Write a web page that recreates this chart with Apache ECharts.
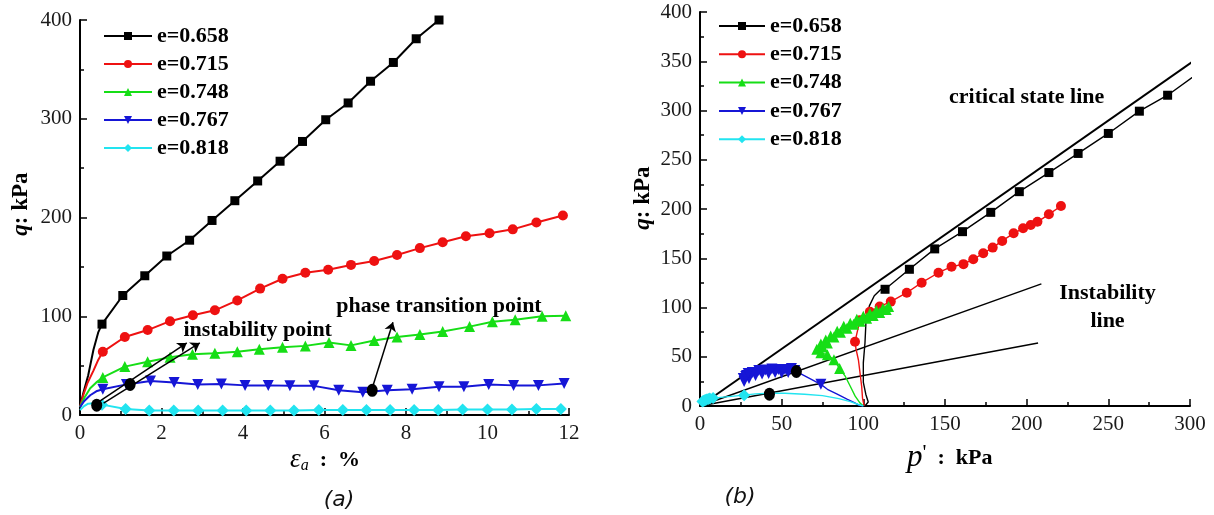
<!DOCTYPE html>
<html>
<head>
<meta charset="utf-8">
<script src="https://cdn.jsdelivr.net/npm/echarts@6/dist/echarts.min.js"></script>
<style>
html, body { margin: 0; padding: 0; background: #fff; }
#c { width: 1214px; height: 515px; }
</style>
</head>
<body>
<div id="c"></div>
<script>
// ---------- (a) deviator stress q vs axial strain εa ----------
// lead = unmarked start of each curve, mark = points carrying symbols
const a658LeadX = [0, 0.08, 0.2, 0.33, 0.45];
const a658LeadY = [8, 22, 40, 66, 84];
const a658X = [0.54, 1.05, 1.59, 2.13, 2.69, 3.24, 3.80, 4.36, 4.91, 5.46, 6.03, 6.58, 7.13, 7.69, 8.25, 8.81];
const a658Y = [92, 121, 141, 161, 177, 197, 217, 237, 257, 277, 299, 316, 338, 357, 381, 400];

const a715LeadX = [0, 0.08, 0.18, 0.33, 0.45];
const a715LeadY = [8, 20, 32, 45, 56];
const a715X = [0.56, 1.10, 1.66, 2.21, 2.77, 3.31, 3.86, 4.42, 4.97, 5.53, 6.09, 6.65, 7.22, 7.78, 8.34, 8.90, 9.47, 10.05, 10.62, 11.20, 11.85];
const a715Y = [64, 79, 86, 95, 101, 106, 116, 128, 138, 144, 147, 152, 156, 162, 169, 175, 181, 184, 188, 195, 202];

const a748LeadX = [0, 0.1, 0.25, 0.4];
const a748LeadY = [8, 17, 27, 33];
const a748X = [0.56, 1.10, 1.66, 2.21, 2.76, 3.31, 3.86, 4.40, 4.97, 5.53, 6.11, 6.65, 7.22, 7.78, 8.34, 8.90, 9.56, 10.12, 10.68, 11.34, 11.92];
const a748Y = [38, 49, 54, 58.5, 61.5, 62.5, 64, 66.5, 68.5, 70, 73.5, 70.5, 75.5, 79, 81.5, 84.5, 89.5, 94.5, 96.5, 100, 100.5];

const a767LeadX = [0, 0.1, 0.25, 0.4];
const a767LeadY = [8, 14, 20, 24];
const a767X = [0.56, 1.14, 1.73, 2.31, 2.89, 3.47, 4.05, 4.62, 5.15, 5.74, 6.35, 6.94, 7.54, 8.15, 8.81, 9.42, 10.03, 10.64, 11.25, 11.88];
const a767Y = [26, 31, 34.5, 33, 31, 31.5, 30, 30, 29.5, 29.5, 25, 23, 25, 26, 28.5, 28.5, 31, 30, 30, 32];

const a818LeadX = [0, 0.1, 0.2, 0.35];
const a818LeadY = [5, 9, 11.5, 12];
const a818X = [0.54, 1.12, 1.70, 2.30, 2.90, 3.50, 4.08, 4.67, 5.25, 5.86, 6.45, 7.03, 7.61, 8.20, 8.79, 9.39, 10.0, 10.6, 11.2, 11.8];
const a818Y = [10.5, 6, 4.5, 4.5, 4.5, 4.5, 4.5, 4.5, 4.5, 5, 5, 5, 5, 5, 5, 5.5, 5.5, 5.5, 6, 6];

// instability points and phase transition point [εa, q]
const aPoints = [[0.41, 10], [1.23, 31], [7.17, 25]];
// arrows [εa0, q0, εa1, q1]
const aArrows = [[0.45, 13, 2.62, 73], [0.58, 12, 2.94, 73], [7.17, 27, 7.68, 94]];
const aNotes = [['instability point', 4.36, 86], ['phase transition point', 8.81, 110]];

// ---------- (b) stress paths q vs p' ----------
const b658LeadX = [101, 103, 101.5, 100, 100, 101, 101.6, 103.7, 106.7, 110.5];
const b658LeadY = [0, 4, 12, 24, 44, 64, 85, 101.7, 112, 118];
const b658X = [113.3, 128.2, 143.7, 160.7, 178, 195.5, 213.6, 231.5, 250, 269, 286.3, 305];
const b658Y = [118.5, 138.8, 159.5, 177, 196.6, 217.6, 237, 256.4, 276.7, 299.3, 315.5, 338];

const b715LeadX = [100.5, 99.5, 99, 97, 95.5];
const b715LeadY = [0, 8, 19.6, 46.7, 58];
const b715X = [94.9, 97.9, 104, 110, 116.8, 126.6, 135.7, 146, 154, 161.3, 167.3, 173.4, 179.2, 185, 192, 197.8, 202.5, 206.6, 213.6, 221];
const b715Y = [65.3, 87, 95.7, 101, 106, 115, 125.2, 135.3, 141.4, 144, 149, 155, 160.8, 167.6, 175.3, 180.4, 183.8, 187, 194.6, 203];

const b748LeadX = [100, 98, 95, 92, 89];
const b748LeadY = [0, 3, 10, 20, 30];
const b748X = [85.5, 82, 78, 74, 71.5, 74, 75, 77, 78, 80, 82, 84, 86, 88, 90, 92, 94, 96, 98, 100, 102, 104, 106, 108, 110, 112, 114, 115.5];
const b748Y = [38, 47, 52, 54, 57.5, 63, 60, 67, 64, 71, 70, 76, 75, 81, 79, 84, 83, 88, 86, 91, 89, 94, 92, 97, 95, 99, 98, 101];

const b767LeadX = [100, 97.5, 94.5, 90, 84, 78];
const b767LeadY = [0, 0.7, 3.4, 7, 12, 17];
const b767X = [74, 58, 56, 54, 52, 50, 48, 46, 44, 42, 40, 38, 36, 34, 32, 30, 28.5, 27, 26.5, 28, 29.5];
const b767Y = [22, 36, 38, 34, 37, 33.5, 37, 34, 37.5, 33, 36.5, 32.5, 36, 31, 34, 28, 31, 25, 28, 30, 33];

const b818LeadX = [100, 97, 92, 85, 75, 64, 52, 42, 34];
const b818LeadY = [0, 1.5, 4.5, 7.5, 10.5, 12, 13, 13, 12.3];
const b818X = [27, 8, 6, 5, 4, 3.2, 2.6, 2, 1.5];
const b818Y = [11, 8, 7.5, 7, 6.5, 6, 5.5, 5, 4.5];

// reference lines through the origin [p', q] end points
const criticalStateEnd = [301, 349];
const instabilityEnds = [[209, 124], [207, 64]];
const bPoints = [[59, 35], [42.5, 12]];
const bNotes = [['critical state line', 200, 313], ['Instability\nline', 249.5, 100]];

// ---------- drawing ----------
const SERIF = 'Liberation Serif';
const names = ['e=0.658', 'e=0.715', 'e=0.748', 'e=0.767', 'e=0.818'];
const looks = [
  { color: '#000000', symbol: 'rect', size: 9, rotate: 0 },
  { color: '#ee1111', symbol: 'circle', size: 10, rotate: 0 },
  { color: '#16de16', symbol: 'triangle', size: 11, rotate: 0 },
  { color: '#1616d6', symbol: 'triangle', size: 11, rotate: 180 },
  { color: '#22e4f0', symbol: 'diamond', size: 12, rotate: 0 }
];

function curveData(leadX, leadY, xs, ys) {
  const d = [];
  leadX.forEach((x, i) => d.push({ value: [x, leadY[i]], symbol: 'none' }));
  xs.forEach((x, i) => d.push([x, ys[i]]));
  return d;
}

const aCurves = [
  curveData(a658LeadX, a658LeadY, a658X, a658Y),
  curveData(a715LeadX, a715LeadY, a715X, a715Y),
  curveData(a748LeadX, a748LeadY, a748X, a748Y),
  curveData(a767LeadX, a767LeadY, a767X, a767Y),
  curveData(a818LeadX, a818LeadY, a818X, a818Y)
];
const bCurves = [
  curveData(b658LeadX, b658LeadY, b658X, b658Y),
  curveData(b715LeadX, b715LeadY, b715X, b715Y),
  curveData(b748LeadX, b748LeadY, b748X, b748Y),
  curveData(b767LeadX, b767LeadY, b767X, b767Y),
  curveData(b818LeadX, b818LeadY, b818X, b818Y)
];

const tickFont = { fontFamily: SERIF, fontStyle: 'normal', fontWeight: 'normal', fontSize: 21, color: '#1a1a1a' };

function valueAxis(idx, min, max, interval) {
  return {
    type: 'value', gridIndex: idx, min: min, max: max, interval: interval,
    axisLine: { show: true, onZero: false, lineStyle: { color: '#000', width: 2 } },
    axisTick: { show: true, inside: true, length: 7, lineStyle: { color: '#000', width: 1.5 } },
    minorTick: { show: true, splitNumber: 2, length: 4, lineStyle: { color: '#000', width: 1.5 } },
    splitLine: { show: false },
    minorSplitLine: { show: false },
    axisLabel: Object.assign({
      margin: 8,
      formatter: v => '{t|' + v + '}',
      rich: { t: tickFont }
    }, tickFont)
  };
}

const series = [];
aCurves.forEach((d, i) => series.push({
  type: 'line', name: names[i], xAxisIndex: 0, yAxisIndex: 0, data: d,
  symbol: looks[i].symbol, symbolSize: looks[i].size, symbolRotate: looks[i].rotate,
  lineStyle: { color: looks[i].color, width: 2 }, itemStyle: { color: looks[i].color },
  z: 3, clip: true, silent: true
}));
bCurves.forEach((d, i) => series.push({
  type: 'line', name: names[i], xAxisIndex: 1, yAxisIndex: 1, data: d,
  symbol: looks[i].symbol, symbolSize: looks[i].size, symbolRotate: looks[i].rotate,
  lineStyle: { color: looks[i].color, width: 1.4 }, itemStyle: { color: looks[i].color },
  z: 4, clip: true, silent: true
}));

// critical state line and instability lines
series.push({
  type: 'line', xAxisIndex: 1, yAxisIndex: 1, data: [[0, 0], criticalStateEnd],
  symbol: 'none', lineStyle: { color: '#000', width: 2 }, z: 3, clip: true, silent: true
});
instabilityEnds.forEach(e => series.push({
  type: 'line', xAxisIndex: 1, yAxisIndex: 1, data: [[0, 0], e],
  symbol: 'none', lineStyle: { color: '#000', width: 1.4 }, z: 3, clip: true, silent: true
}));

// arrows in (a)
series.push({
  type: 'lines', coordinateSystem: 'cartesian2d', xAxisIndex: 0, yAxisIndex: 0,
  symbol: ['none', 'arrow'], symbolSize: 9,
  lineStyle: { color: '#000', width: 1.5, opacity: 1 },
  data: aArrows.map(a => ({ coords: [[a[0], a[1]], [a[2], a[3]]] })),
  z: 5, silent: true
});

// marked points
[[aPoints, 0], [bPoints, 1]].forEach(([pts, k]) => series.push({
  type: 'scatter', xAxisIndex: k, yAxisIndex: k, data: pts,
  symbol: 'circle', symbolSize: [11, 13], itemStyle: { color: '#000', opacity: 1 },
  z: 6, silent: true
}));

// annotation text placed in data coordinates
[[aNotes, 0], [bNotes, 1]].forEach(([notes, k]) => series.push({
  type: 'scatter', xAxisIndex: k, yAxisIndex: k, symbolSize: 1,
  itemStyle: { color: 'rgba(0,0,0,0)', opacity: 1 },
  data: notes.map(n => ({ name: n[0], value: [n[1], n[2]] })),
  label: {
    show: true, position: 'inside', formatter: '{b}', align: 'center', opacity: 1,
    fontFamily: SERIF, fontWeight: 'bold', fontSize: 22, lineHeight: 28, color: '#000',
    textBorderWidth: 0
  },
  z: 7, silent: true
}));

const legendText = { fontFamily: SERIF, fontWeight: 'bold', fontSize: 22, lineHeight: 22, color: '#000' };

const option = {
  animation: false,
  backgroundColor: '#fff',
  textStyle: { fontFamily: SERIF },
  grid: [
    { left: 80, top: 20, width: 489, height: 395 },
    { left: 700, top: 12, width: 490, height: 394 }
  ],
  xAxis: [valueAxis(0, 0, 12, 2), valueAxis(1, 0, 300, 50)],
  yAxis: [valueAxis(0, 0, 400, 100), valueAxis(1, 0, 400, 50)],
  legend: [
    { data: names, orient: 'vertical', left: 103, top: 25, padding: 0, itemWidth: 48, itemHeight: 10,
      itemGap: 6, selectedMode: false, textStyle: legendText },
    { data: names, orient: 'vertical', left: 718, top: 15, padding: 0, itemWidth: 46, itemHeight: 10,
      itemGap: 6.3, selectedMode: false, textStyle: legendText }
  ],
  graphic: [
    { type: 'text', x: 21, y: 204, rotation: Math.PI / 2, silent: true,
      style: { text: '{i|q}{b|: kPa}', align: 'center', verticalAlign: 'middle', fill: '#000',
        rich: { i: { fontFamily: SERIF, fontStyle: 'italic', fontWeight: 'bold', fontSize: 23 },
                b: { fontFamily: SERIF, fontWeight: 'bold', fontSize: 23 } } } },
    { type: 'text', x: 643, y: 198, rotation: Math.PI / 2, silent: true,
      style: { text: '{i|q}{b|: kPa}', align: 'center', verticalAlign: 'middle', fill: '#000',
        rich: { i: { fontFamily: SERIF, fontStyle: 'italic', fontWeight: 'bold', fontSize: 23 },
                b: { fontFamily: SERIF, fontWeight: 'bold', fontSize: 23 } } } },
    { type: 'text', x: 290, y: 460, silent: true,
      style: { text: '{e|ε}{s|a}{c|  :  %}', align: 'left', verticalAlign: 'middle', fill: '#000',
        rich: { e: { fontFamily: SERIF, fontStyle: 'italic', fontSize: 27, lineHeight: 27 },
                s: { fontFamily: SERIF, fontStyle: 'italic', fontSize: 16, lineHeight: 16, verticalAlign: 'bottom' },
                c: { fontFamily: SERIF, fontWeight: 'bold', fontSize: 22, lineHeight: 27 } } } },
    { type: 'text', x: 907, y: 458, silent: true,
      style: { text: "{p|p}{m|'}{c|  :  kPa}", align: 'left', verticalAlign: 'middle', fill: '#000',
        rich: { p: { fontFamily: SERIF, fontStyle: 'italic', fontSize: 31, lineHeight: 31 },
                m: { fontFamily: SERIF, fontSize: 22, lineHeight: 31, verticalAlign: 'top' },
                c: { fontFamily: SERIF, fontWeight: 'bold', fontSize: 22, lineHeight: 31 } } } },
    { type: 'text', x: 339, y: 500, silent: true,
      style: { text: '(a)', align: 'center', verticalAlign: 'middle', fill: '#111',
        fontFamily: 'DejaVu Sans', fontStyle: 'italic', fontSize: 22 } },
    { type: 'text', x: 740, y: 497, silent: true,
      style: { text: '(b)', align: 'center', verticalAlign: 'middle', fill: '#111',
        fontFamily: 'DejaVu Sans', fontStyle: 'italic', fontSize: 22 } }
  ],
  series: series
};

const chart = echarts.init(document.getElementById('c'), null, { renderer: 'canvas' });
chart.setOption(option);
</script>
</body>
</html>
